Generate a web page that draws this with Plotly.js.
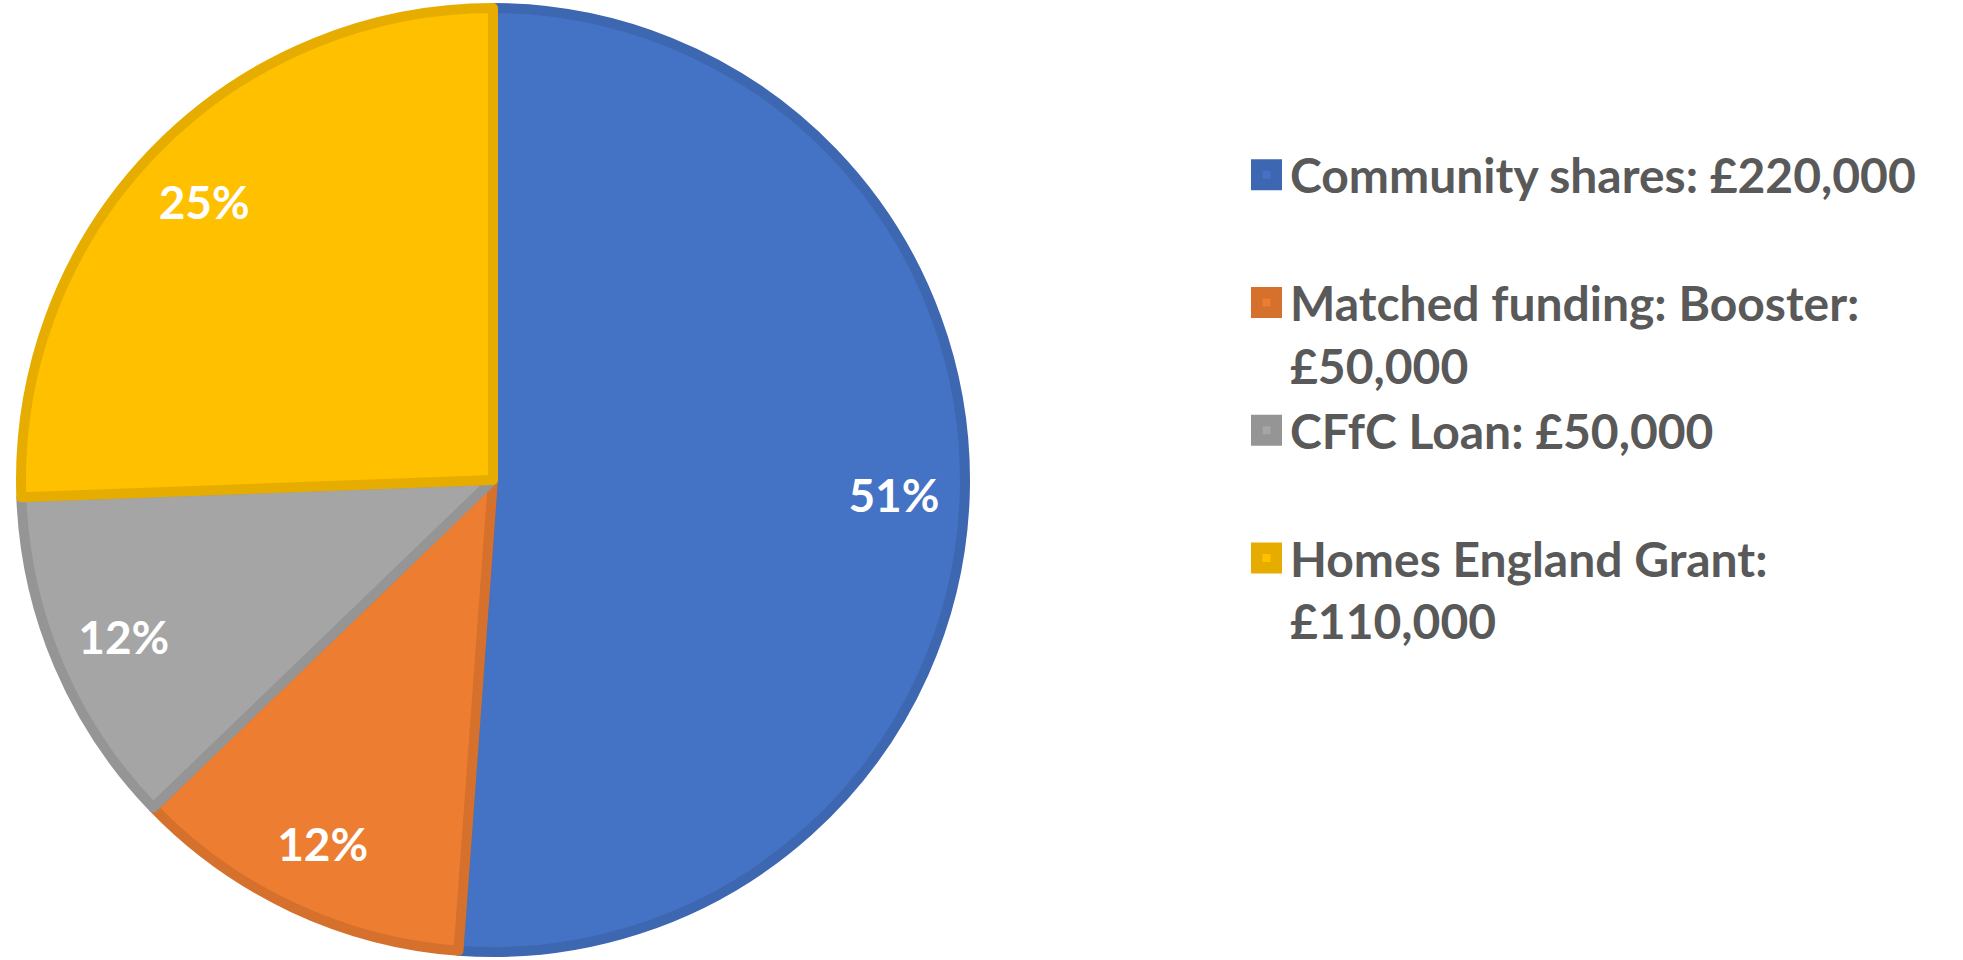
<!DOCTYPE html>
<html>
<head>
<meta charset="utf-8">
<script src="https://cdn.plot.ly/plotly-3.0.1.min.js"></script>
<style>html,body{margin:0;padding:0;background:#fff;}#chart{width:1963px;height:960px;}</style>
</head>
<body>
<div id="chart"></div>
<script>
const labels = ["Community shares: £220,000", "Matched funding: Booster: £50,000", "CFfC Loan: £50,000", "Homes England Grant: £110,000"];
const values = [220000, 50000, 50000, 110000];
const pctLabels = ["51%", "12%", "12%", "25%"];
const fillColors = ["#4472C4", "#ED7D31", "#A5A5A5", "#FFC000"];
const lineColors = ["#3D67B0", "#D5712C", "#959595", "#E6AD00"];

function wrap(s, maxChars) {
  const words = s.split(" ");
  const lines = [];
  let cur = "";
  words.forEach(w => {
    const t = cur ? cur + " " + w : w;
    if (t.length > maxChars && cur) { lines.push(cur); cur = w; } else { cur = t; }
  });
  lines.push(cur);
  while (lines.length < 2) lines.push("&nbsp;");
  return lines.join("<br>");
}
const legendLabels = labels.map(l => wrap(l, 26));
const domain = {x: [21/1963, 965/1963], y: [0.0062, 0.9938]};

const pieTrace = {
  type: "pie",
  labels: legendLabels,
  values: values,
  textinfo: "none",
  sort: false,
  direction: "clockwise",
  rotation: 0,
  marker: {colors: fillColors, line: {color: lineColors, width: 10}},
  domain: domain,
  hoverinfo: "label+value"
};

// transparent ring carrying the percentage labels near the rim
const labelTrace = {
  type: "pie",
  labels: legendLabels,
  values: values,
  text: pctLabels,
  texttemplate: "%{text}",
  textinfo: "text",
  textposition: "inside",
  insidetextorientation: "horizontal",
  insidetextfont: {family: "Lato, sans-serif", size: 46, color: "#FFFFFF", weight: "bold"},
  hole: 0.7,
  sort: false,
  direction: "clockwise",
  rotation: 0,
  showlegend: false,
  marker: {colors: ["rgba(0,0,0,0)", "rgba(0,0,0,0)", "rgba(0,0,0,0)", "rgba(0,0,0,0)"], line: {width: 0}},
  domain: domain,
  hoverinfo: "skip"
};

const layout = {
  width: 1963, height: 960,
  margin: {l: 0, r: 0, t: 0, b: 0},
  paper_bgcolor: "#FFFFFF",
  showlegend: true,
  legend: {
    x: 1243/1963, xanchor: "left",
    y: 1 - 137/960, yanchor: "top",
    valign: "top",
    itemwidth: 37,
    font: {family: "Lato, sans-serif", size: 48, color: "#595959", weight: "bold"},
    bgcolor: "rgba(0,0,0,0)"
  }
};

Plotly.newPlot("chart", [pieTrace, labelTrace], layout, {displayModeBar: false}).then(() => {
  document.querySelectorAll(".legend .legendpoints path").forEach(p => {
    p.setAttribute("d", "M9.75,9.75H-9.75V-9.75H9.75Z");
    p.style.strokeWidth = "11.5px";
  });
});
</script>
</body>
</html>
